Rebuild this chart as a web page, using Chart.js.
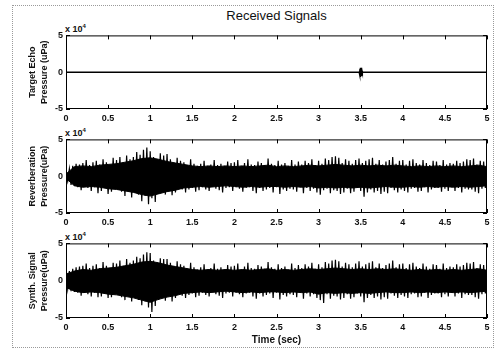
<!DOCTYPE html>
<html>
<head>
<meta charset="utf-8">
<script src="https://cdn.jsdelivr.net/npm/chart.js@4/dist/chart.umd.min.js"></script>
<style>
    body { margin: 0; width: 494px; height: 351px; background: #fff; position: relative; overflow: hidden;
           font-family: "Liberation Sans", Arial, sans-serif; color: #111; }
    canvas { position: absolute; left: 0; }
    .frame { position: absolute; left: 12px; top: 5px; width: 480px; height: 341px; border: 1px dotted #9a9a9a; }
    .title { position: absolute; top: 8px; left: 66px; width: 421px; text-align: center; font-size: 13px; }
    .exp { position: absolute; left: 65px; font-size: 9px; font-weight: bold; line-height: 10px; }
    .exp sup { font-size: 6px; vertical-align: 4px; }
</style>
</head>
<body>
<div class="frame"></div>
<div class="title">Received Signals</div>
<div class="exp" style="top:21px">x 10<sup>4</sup></div>
<div class="exp" style="top:125px">x 10<sup>4</sup></div>
<div class="exp" style="top:229px">x 10<sup>4</sup></div>
<canvas id="c1" width="494" height="98" style="top:27px"></canvas>
<canvas id="c2" width="494" height="98" style="top:131px"></canvas>
<canvas id="c3" width="494" height="115" style="top:235px"></canvas>
<script>
// Eje de tiempo (s) y rango de presión (x 10^4 uPa)
const xTicks = [0, 0.5, 1, 1.5, 2, 2.5, 3, 3.5, 4, 4.5, 5];
const yTicks = [-5, 0, 5];
const sampleStep = 0.02;   // 251 muestras de 0 a 5 s
const coreStep = 0.1;      // 51 puntos de envolvente de 0 a 5 s

// Eco del blanco: línea en cero con un pulso corto en 3.5 s
const echoT = [0, 3.482, 3.486, 3.489, 3.492, 3.495, 3.498, 3.501, 3.504, 3.507, 3.510, 3.513, 3.516, 3.519, 5];
const echoV = [0, 0, 0.2, -0.3, 0.45, -0.55, 0.62, -0.65, 0.6, -0.5, 0.4, -0.28, 0.15, 0, 0];

// Envolvente del núcleo sólido (x 10^4 uPa), cada 0.1 s
const reverbCoreHi = [
    0.3,1.3,1.4,1.3,1.5,1.6,1.7,1.9,2.1,2.4,
    2.5,2.3,2.0,1.8,1.6,1.4,1.3,1.4,1.3,1.4,
    1.3,1.4,1.3,1.4,1.5,1.3,1.4,1.3,1.4,1.5,
    1.4,1.5,1.6,1.5,1.4,1.5,1.4,1.5,1.4,1.5,
    1.4,1.3,1.4,1.3,1.4,1.3,1.4,1.3,1.4,1.5,
    1.3
];
const reverbCoreLo = [
    -0.3,-1.3,-1.5,-1.4,-1.5,-1.7,-1.8,-2.0,-2.2,-2.5,
    -2.7,-2.4,-2.1,-1.9,-1.6,-1.5,-1.4,-1.5,-1.4,-1.3,
    -1.4,-1.5,-1.4,-1.5,-1.4,-1.4,-1.5,-1.4,-1.5,-1.4,
    -1.6,-1.5,-1.6,-1.5,-1.6,-1.5,-1.6,-1.5,-1.4,-1.5,
    -1.5,-1.4,-1.5,-1.4,-1.5,-1.4,-1.5,-1.4,-1.5,-1.4,
    -1.3
];
const synthCoreHi = [
    0.9,1.3,1.5,1.4,1.6,1.7,1.8,2.0,2.2,2.5,
    2.6,2.4,2.1,1.9,1.7,1.5,1.4,1.5,1.4,1.5,
    1.4,1.5,1.4,1.5,1.6,1.4,1.5,1.4,1.5,1.6,
    1.5,1.6,1.7,1.6,1.5,1.6,1.5,1.6,1.5,1.6,
    1.5,1.4,1.5,1.4,1.5,1.4,1.5,1.4,1.5,1.6,
    1.4
];
const synthCoreLo = [
    -0.9,-1.4,-1.6,-1.5,-1.6,-1.8,-1.9,-2.1,-2.3,-2.6,
    -2.9,-2.5,-2.2,-2.0,-1.7,-1.6,-1.5,-1.6,-1.5,-1.4,
    -1.5,-1.6,-1.5,-1.6,-1.5,-1.5,-1.6,-1.5,-1.6,-1.5,
    -1.8,-1.6,-1.7,-1.6,-1.7,-1.6,-1.7,-1.6,-1.5,-1.6,
    -1.6,-1.5,-1.6,-1.5,-1.6,-1.5,-1.6,-1.5,-1.6,-1.5,
    -1.4
];

const reverb = [
    0.3,-0.7,1.0,-1.2,1.4,-1.3,1.7,-1.5,1.6,-1.9,
    1.8,-1.4,2.2,-1.6,1.5,-2.0,1.9,-1.5,2.1,-2.3,
    1.6,-2.0,2.3,-1.5,1.9,-2.4,1.5,-2.1,2.5,-1.7,
    2.2,-1.8,2.6,-2.1,1.9,-2.7,2.8,-2.0,2.3,-2.9,
    2.6,-2.2,3.3,-2.5,2.9,-3.4,3.6,-2.7,3.9,-3.8,
    3.4,-3.0,2.6,-3.5,2.3,-2.4,3.1,-2.2,2.8,-2.5,
    3.0,-2.0,2.3,-2.6,1.8,-2.2,2.5,-1.7,2.1,-1.8,
    1.9,-2.2,1.5,-1.8,2.3,-1.6,1.7,-2.1,1.4,-1.9,
    1.7,-1.5,2.1,-1.8,1.4,-2.0,1.6,-1.4,2.2,-1.7,
    1.5,-1.9,1.7,-2.2,1.4,-1.6,2.0,-1.5,1.8,-2.0,
    1.9,-1.5,2.2,-1.7,1.4,-2.1,1.8,-1.6,2.3,-1.5,
    1.6,-2.0,1.5,-2.3,2.0,-1.6,1.8,-2.0,1.5,-1.8,
    2.4,-1.6,1.7,-2.2,1.5,-1.5,2.1,-2.4,1.6,-1.8,
    1.8,-2.0,1.4,-1.7,2.2,-1.8,1.6,-2.1,2.0,-1.5,
    1.6,-2.3,2.1,-1.6,1.8,-2.0,2.3,-1.7,1.5,-2.2,
    2.1,-2.5,1.7,-1.9,2.4,-1.7,2.2,-2.3,2.6,-1.9,
    2.7,-2.0,2.5,-2.4,1.8,-2.2,2.3,-1.7,2.1,-2.3,
    1.7,-2.1,2.2,-1.6,2.4,-2.0,1.8,-2.8,2.1,-2.2,
    2.3,-1.8,2.5,-2.2,1.7,-2.0,2.2,-2.4,1.6,-2.1,
    2.0,-2.3,2.2,-1.6,2.6,-1.9,1.7,-2.2,2.1,-1.8,
    2.2,-2.0,1.6,-2.2,2.1,-1.7,2.3,-1.6,1.8,-2.1,
    1.6,-2.0,2.2,-1.5,1.8,-2.2,1.5,-1.8,2.1,-1.6,
    2.0,-1.6,1.5,-2.1,2.2,-1.7,1.6,-2.0,1.8,-1.5,
    1.7,-2.0,2.1,-1.6,1.8,-2.2,2.0,-1.7,2.3,-1.8,
    2.2,-1.8,2.4,-2.1,1.6,-2.3,2.1,-1.7,2.0,-1.6,
    1.2
];

// Señal sintetizada (x 10^4 uPa)
const synth = [
    0.9,-1.1,1.3,-1.4,1.6,-1.5,1.8,-1.6,1.9,-2.0,
    2.0,-1.6,2.3,-1.8,1.7,-2.1,2.0,-1.6,2.2,-2.2,
    1.7,-2.1,2.5,-1.6,2.0,-2.3,1.6,-2.2,2.4,-1.8,
    2.3,-1.9,2.7,-2.2,2.0,-2.6,2.9,-2.1,2.4,-2.8,
    2.7,-2.3,3.2,-2.6,3.0,-3.3,3.5,-2.8,3.8,-3.6,
    3.7,-4.2,2.7,-3.4,2.4,-2.6,3.0,-2.3,2.9,-2.7,
    2.9,-2.1,2.4,-2.8,1.9,-2.3,2.6,-1.8,2.2,-2.0,
    2.0,-2.3,1.6,-1.9,2.4,-1.7,1.8,-2.2,1.5,-2.0,
    1.8,-1.6,2.2,-1.9,1.5,-2.1,1.7,-1.5,2.3,-1.8,
    1.6,-2.0,1.8,-2.3,1.5,-1.7,2.1,-1.6,1.9,-2.1,
    2.0,-1.6,2.3,-1.8,1.5,-2.2,1.9,-1.7,2.4,-1.6,
    1.7,-2.1,1.6,-2.4,2.1,-1.7,1.9,-2.1,1.6,-1.9,
    2.5,-1.7,1.8,-2.3,1.6,-1.6,2.2,-2.5,1.7,-1.9,
    1.9,-2.1,1.5,-1.8,2.3,-1.9,1.7,-2.2,2.1,-1.6,
    1.7,-2.4,2.2,-1.7,1.9,-2.1,2.4,-1.8,1.6,-2.3,
    2.2,-2.6,1.8,-3.0,2.5,-1.8,2.3,-2.4,2.7,-2.0,
    2.8,-2.1,2.6,-2.5,1.9,-2.3,2.4,-1.8,2.2,-2.4,
    1.8,-2.2,2.3,-1.7,2.6,-2.1,1.9,-2.9,2.2,-2.3,
    2.4,-1.9,2.6,-2.3,1.8,-2.1,2.3,-2.5,1.7,-2.2,
    2.1,-2.4,2.3,-1.7,2.7,-2.0,1.8,-2.3,2.2,-1.9,
    2.3,-2.1,1.7,-2.3,2.2,-1.8,2.4,-1.7,1.9,-2.2,
    1.7,-2.1,2.3,-1.6,1.9,-2.3,1.6,-1.9,2.2,-1.7,
    2.1,-1.7,1.6,-2.2,2.3,-1.8,1.7,-2.1,1.9,-1.6,
    1.8,-2.1,2.2,-1.7,1.9,-2.3,2.1,-1.8,2.4,-1.9,
    2.3,-1.9,2.5,-2.2,1.7,-2.4,2.2,-1.8,2.1,-1.7,
    1.5
];

// Convertir muestras en puntos {x, y}
function toPoints(values, step) {
    return values.map((v, i) => ({ x: +(i * step).toFixed(2), y: v }));
}
function zipPoints(times, values) {
    return times.map((t, i) => ({ x: t, y: values[i] }));
}

// Marco negro y marcas de escala hacia adentro, como en MATLAB
const frameTicks = {
    id: 'frameTicks',
    afterDraw(chart) {
        const { ctx, chartArea: a, scales: { x, y } } = chart;
        ctx.save();
        ctx.strokeStyle = '#000';
        ctx.lineWidth = 1;
        ctx.strokeRect(a.left + 0.5, a.top + 0.5, a.width - 1, a.height - 1);
        ctx.beginPath();
        xTicks.forEach(t => {
            const px = Math.round(x.getPixelForValue(t)) + 0.5;
            ctx.moveTo(px, a.top); ctx.lineTo(px, a.top + 4);
            ctx.moveTo(px, a.bottom); ctx.lineTo(px, a.bottom - 4);
        });
        yTicks.forEach(t => {
            const py = Math.round(y.getPixelForValue(t)) + 0.5;
            ctx.moveTo(a.left, py); ctx.lineTo(a.left + 4, py);
            ctx.moveTo(a.right, py); ctx.lineTo(a.right - 4, py);
        });
        ctx.stroke();
        ctx.restore();
    }
};

const fontFamily = '"Liberation Sans", Arial, sans-serif';
const tickFont = { family: fontFamily, size: 9, weight: 'bold' };

function signalDataset(points, width) {
    return { data: points, borderColor: '#000', borderWidth: width, pointRadius: 0, tension: 0, fill: false };
}

// Banda sólida entre la envolvente superior e inferior
function coreDatasets(hi, lo) {
    return [
        { data: toPoints(hi, coreStep), borderColor: '#000', borderWidth: 1, pointRadius: 0, tension: 0,
          backgroundColor: '#000', fill: '+1' },
        { data: toPoints(lo, coreStep), borderColor: '#000', borderWidth: 1, pointRadius: 0, tension: 0, fill: false }
    ];
}

function createPanel(id, datasets, yTitle, xTitle, xAxisHeight) {
    const ctx = document.getElementById(id).getContext('2d');
    return new Chart(ctx, {
        type: 'line',
        data: { datasets: datasets },
        options: {
            responsive: false,
            animation: false,
            events: [],
            layout: { padding: { top: 4, right: 7, left: 0, bottom: 0 } },
            plugins: { legend: { display: false }, tooltip: { enabled: false } },
            scales: {
                x: {
                    type: 'linear',
                    min: 0,
                    max: 5,
                    grid: { display: false, drawTicks: false },
                    border: { display: false },
                    afterBuildTicks: scale => { scale.ticks = xTicks.map(v => ({ value: v })); },
                    ticks: { font: tickFont, color: '#111', padding: 4, maxRotation: 0, autoSkip: false,
                             callback: value => String(value) },
                    title: {
                        display: !!xTitle,
                        text: xTitle || '',
                        font: { family: fontFamily, size: 10, weight: 'bold' },
                        color: '#111',
                        padding: { top: 0, bottom: 4 }
                    },
                    afterFit: scale => { scale.height = xAxisHeight; }
                },
                y: {
                    min: -5,
                    max: 5,
                    grid: { display: false, drawTicks: false },
                    border: { display: false },
                    afterBuildTicks: scale => { scale.ticks = yTicks.map(v => ({ value: v })); },
                    ticks: { font: tickFont, color: '#111', padding: 3, callback: value => String(value) },
                    title: {
                        display: true,
                        text: yTitle,
                        font: { family: fontFamily, size: 9, weight: 'bold', lineHeight: 1.33 },
                        color: '#111',
                        padding: { top: 27, bottom: 0 }
                    },
                    afterFit: scale => { scale.width = 66; }
                }
            }
        },
        plugins: [frameTicks]
    });
}

createPanel('c1', [signalDataset(zipPoints(echoT, echoV), 1.5)],
    ['Target Echo', 'Pressure (uPa)'], null, 16);
createPanel('c2', [...coreDatasets(reverbCoreHi, reverbCoreLo), signalDataset(toPoints(reverb, sampleStep), 1.2)],
    ['Reverberation', 'Pressure(uPa)'], null, 16);
createPanel('c3', [...coreDatasets(synthCoreHi, synthCoreLo), signalDataset(toPoints(synth, sampleStep), 1.2)],
    ['Synth. Signal', 'Pressure(uPa)'], 'Time (sec)', 32);
</script>
</body>
</html>
